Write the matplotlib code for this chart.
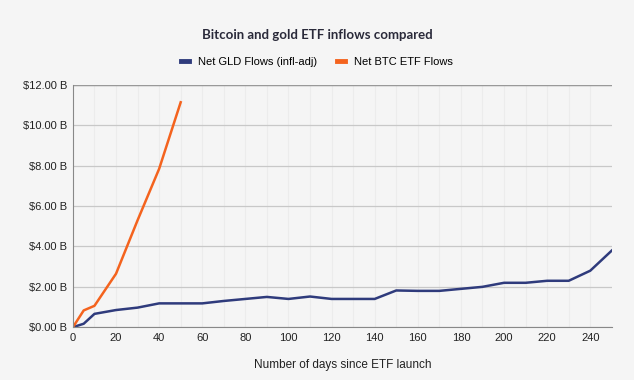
import matplotlib.pyplot as plt
from matplotlib.ticker import FuncFormatter

# Net flows in $B by days since launch
gld_days = [0, 5, 10, 20, 30, 40, 50, 60, 70, 80, 90, 100, 110, 120, 130, 140,
            150, 160, 170, 180, 190, 200, 210, 220, 230, 240, 250]
gld_flows = [0, 0.17, 0.66, 0.85, 0.97, 1.18, 1.18, 1.18, 1.3, 1.4, 1.5, 1.4, 1.52, 1.4, 1.4, 1.4,
             1.82, 1.8, 1.8, 1.9, 2.0, 2.2, 2.2, 2.3, 2.3, 2.8, 3.8]
btc_days = [0, 5, 10, 20, 30, 40, 50]
btc_flows = [0, 0.83, 1.06, 2.65, 5.3, 7.85, 11.15]

bg = '#f5f5f5'
fig = plt.figure(figsize=(6.34, 3.8), dpi=100, facecolor=bg)
ax = fig.add_axes([0.115, 0.139, 0.85, 0.637], facecolor=bg)

ax.plot(gld_days, gld_flows, color='#2f3b7c', linewidth=1.8, label='Net GLD Flows (infl-adj)')
ax.plot(btc_days, btc_flows, color='#f4631e', linewidth=1.8, label='Net BTC ETF Flows')

ax.set_xlim(0, 250)
ax.set_ylim(0, 12)
ax.set_xticks(range(0, 250, 20))
ax.set_yticks(range(0, 13, 2))
ax.yaxis.set_major_formatter(FuncFormatter(lambda v, p: f'${v:.2f} B'))
ax.tick_params(length=0, labelsize=8, colors='#222222', pad=4)

# grid: gray horizontals, faint verticals
ax.set_axisbelow(True)
for v in range(10, 250, 10):
    ax.axvline(v, color='#ececec', linewidth=0.8, zorder=0)
ax.grid(axis='y', color='#c8c8c8', linewidth=0.9)
for s in ['top', 'right']:
    ax.spines[s].set_visible(False)
ax.spines['left'].set_color('#888888')
ax.spines['bottom'].set_color('#888888')
ax.axhline(12, color='#999999', linewidth=1)

ax.set_xlabel('Number of days since ETF launch', fontsize=8.5, color='#222222',
              family='Liberation Sans', labelpad=12)
for t in ax.get_xticklabels() + ax.get_yticklabels():
    t.set_family('Liberation Sans')

fig.text(0.5, 0.908, 'Bitcoin and gold ETF inflows compared', ha='center', va='center',
         fontsize=9.5, fontweight='bold', color='#2a2a3a', family='Lato')
fig.legend(loc='center', bbox_to_anchor=(0.5, 0.837), ncol=2, frameon=False,
           prop={'family': 'Liberation Sans', 'size': 8}, handlelength=0.7,
           columnspacing=1.8, handletextpad=0.8)
for h in fig.legends[0].legend_handles:
    h.set_linewidth(3.5)

fig.savefig('out.png', dpi=100, facecolor=bg)
